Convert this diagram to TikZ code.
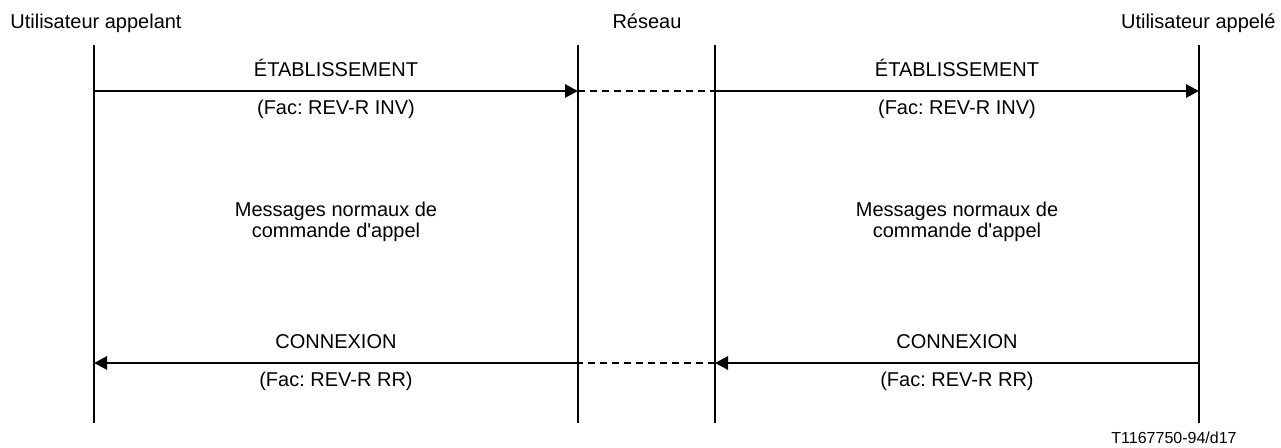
\documentclass[tikz,border=0pt]{standalone}
\usepackage{fontspec}
\setmainfont{Liberation Sans}
\usetikzlibrary{arrows.meta}
\frenchspacing
\begin{document}
\begin{tikzpicture}[x=0.5pt,y=-0.5pt,
	every node/.style={font=\fontsize{10}{10.5}\selectfont,inner sep=0pt},
	vie/.style={line width=1.45pt},
	msg/.style={line width=1.45pt,-{Triangle[length=6.5pt,width=6.5pt]}},
	pont/.style={line width=1.45pt,dash pattern=on 3.5pt off 2.5pt},
	petit/.style={font=\fontsize{8}{9}\selectfont}]
			\useasboundingbox (0,0) rectangle (1281,448);
			\node[anchor=base west] (appelant) at (10,29) {Utilisateur appelant};
			\node[anchor=base] (reseau) at (647,29) {Réseau};
			\node[anchor=base east] (appele) at (1276,29) {Utilisateur appelé};
			
			\coordinate (Ah) at (94,45);   \coordinate (Ab) at (94,423);
			\coordinate (Bh) at (578,45);  \coordinate (Bb) at (578,423);
			\coordinate (Ch) at (715,45);  \coordinate (Cb) at (715,423);
			\coordinate (Dh) at (1199,45); \coordinate (Db) at (1199,423);
			\draw[vie] (Ah) -- (Ab);
			\draw[vie] (Bh) -- (Bb);
			\draw[vie] (Ch) -- (Cb);
			\draw[vie] (Dh) -- (Db);
			
			\coordinate (A1) at (94,91);  \coordinate (B1) at (578,91);
			\coordinate (C1) at (715,91); \coordinate (D1) at (1199,91);
			\coordinate (A2) at (94,363);  \coordinate (B2) at (578,363);
			\coordinate (C2) at (715,363); \coordinate (D2) at (1199,363);
			
			\draw[msg] (A1) -- (B1) node[midway,above=6.5pt] (etabG) {ÉTABLISSEMENT}
				node[midway,below=3.75pt] (facG) {(Fac: REV-R INV)};
			\draw[pont] (B1) -- (C1);
			\draw[msg] (C1) -- (D1) node[midway,above=6.5pt] (etabD) {ÉTABLISSEMENT}
				node[midway,below=3.75pt] (facD) {(Fac: REV-R INV)};
			
			\node[align=center] (normG) at (336,222) {Messages normaux de\\commande d\textquotesingle appel};
			\node[align=center] (normD) at (957,222) {Messages normaux de\\commande d\textquotesingle appel};
			
			\draw[msg] (B2) -- (A2) node[midway,above=6.5pt] (connG) {CONNEXION}
				node[midway,below=3.75pt] (rrG) {(Fac: REV-R RR)};
			\draw[pont] (C2) -- (B2);
			\draw[msg] (D2) -- (C2) node[midway,above=6.5pt] (connD) {CONNEXION}
				node[midway,below=3.75pt] (rrD) {(Fac: REV-R RR)};
			
			\node[petit,anchor=east] (ref) at (1237,438) {T1167750-94/d17};
\end{tikzpicture}
\end{document}
